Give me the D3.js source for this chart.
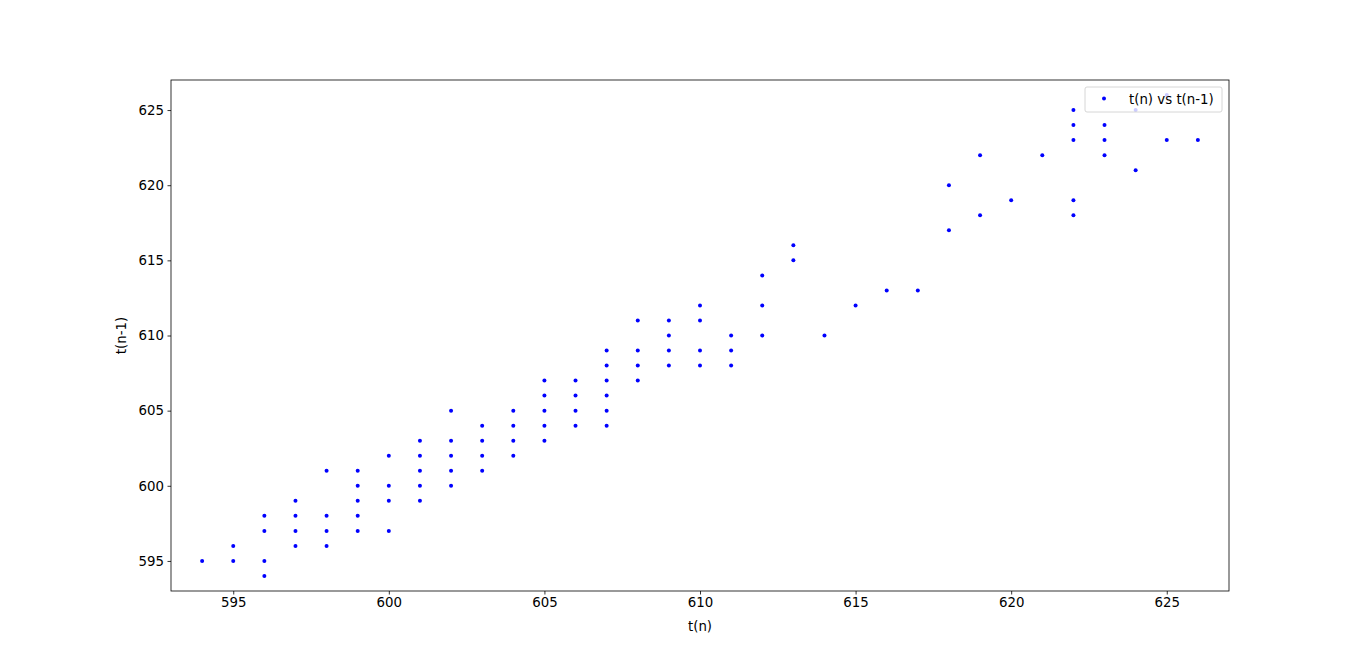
<!DOCTYPE html>
<html><head><meta charset="utf-8">
<script src="https://cdn.jsdelivr.net/npm/d3@7"></script>
<style>body{margin:0;background:#fff}svg{display:block}text{font-family:"DejaVu Sans",sans-serif}</style>
</head><body>
<svg id="c" width="1366" height="664"></svg>
<script>
// t(n) values
const tn = [594,595,595,596,596,596,596,597,597,597,597,598,598,598,598,
599,599,599,599,599,600,600,600,600,601,601,601,601,601,602,602,602,602,602,
603,603,603,603,604,604,604,604,605,605,605,605,605,606,606,606,606,
607,607,607,607,607,607,608,608,608,608,609,609,609,609,610,610,610,610,
611,611,611,612,612,612,613,613,614,615,616,617,618,618,619,619,620,621,
622,622,622,622,622,623,623,623,624,624,625,625,626];
// t(n-1) values
const tn1 = [595,596,595,598,597,595,594,599,598,597,596,601,598,597,596,
601,600,599,598,597,602,600,599,597,603,602,601,600,599,605,603,602,601,600,
604,603,602,601,605,604,603,602,607,606,605,604,603,607,606,605,604,
609,608,607,606,605,604,611,609,608,607,611,610,609,608,612,611,609,608,
610,609,608,614,612,610,616,615,610,612,613,613,620,617,622,618,619,622,
625,624,623,619,618,624,623,622,625,621,626,623,623];
const xTicks = [595,600,605,610,615,620,625];
const yTicks = [595,600,605,610,615,620,625];
const seriesLabel = "t(n) vs t(n-1)";
const xLabel = "t(n)", yLabel = "t(n-1)";

const L=171,R=1229,T=80,B=591;
const svg=d3.select("#c");
const x=d3.scaleLinear().domain([593,627]).range([L,R]);
const y=d3.scaleLinear().domain([593,627]).range([B,T]);

const xa=svg.append("g").attr("transform",`translate(0,${B})`)
  .call(d3.axisBottom(x).tickValues(xTicks).tickSize(3.5).tickPadding(3.5).tickFormat(d3.format("d")));
const ya=svg.append("g").attr("transform",`translate(${L},0)`)
  .call(d3.axisLeft(y).tickValues(yTicks).tickSize(3.5).tickPadding(3.5).tickFormat(d3.format("d")));
[xa,ya].forEach(a=>{a.select(".domain").remove();a.selectAll("line").attr("stroke","#000").attr("stroke-width",0.8);
  a.selectAll("text").attr("font-size","13.33px").attr("fill","#000").attr("font-family","DejaVu Sans");});

const pts=tn.map((v,i)=>[v,tn1[i]]);
svg.append("g").selectAll("circle").data(pts).join("circle")
  .attr("cx",d=>x(d[0])).attr("cy",d=>y(d[1])).attr("r",2).attr("fill","#0000ff");

svg.append("rect").attr("x",L).attr("y",T).attr("width",R-L).attr("height",B-T)
  .attr("fill","none").attr("stroke","#000").attr("stroke-width",0.8);

svg.append("text").attr("x",(L+R)/2).attr("y",631).attr("text-anchor","middle")
  .attr("font-size","13.33px").text(xLabel);
svg.append("text").attr("transform",`translate(126,${(T+B)/2}) rotate(-90)`).attr("text-anchor","middle")
  .attr("font-size","13.33px").text(yLabel);

const lg=svg.append("g");
lg.append("rect").attr("x",1085).attr("y",87).attr("width",137).attr("height",25).attr("rx",2)
  .attr("fill","#fff").attr("fill-opacity",0.8).attr("stroke","#ccc").attr("stroke-width",0.8);
lg.append("circle").attr("cx",1104).attr("cy",98.5).attr("r",2).attr("fill","#0000ff");
lg.append("text").attr("x",1129).attr("y",104).attr("font-size","13.33px").text(seriesLabel);
</script>
</body></html>
